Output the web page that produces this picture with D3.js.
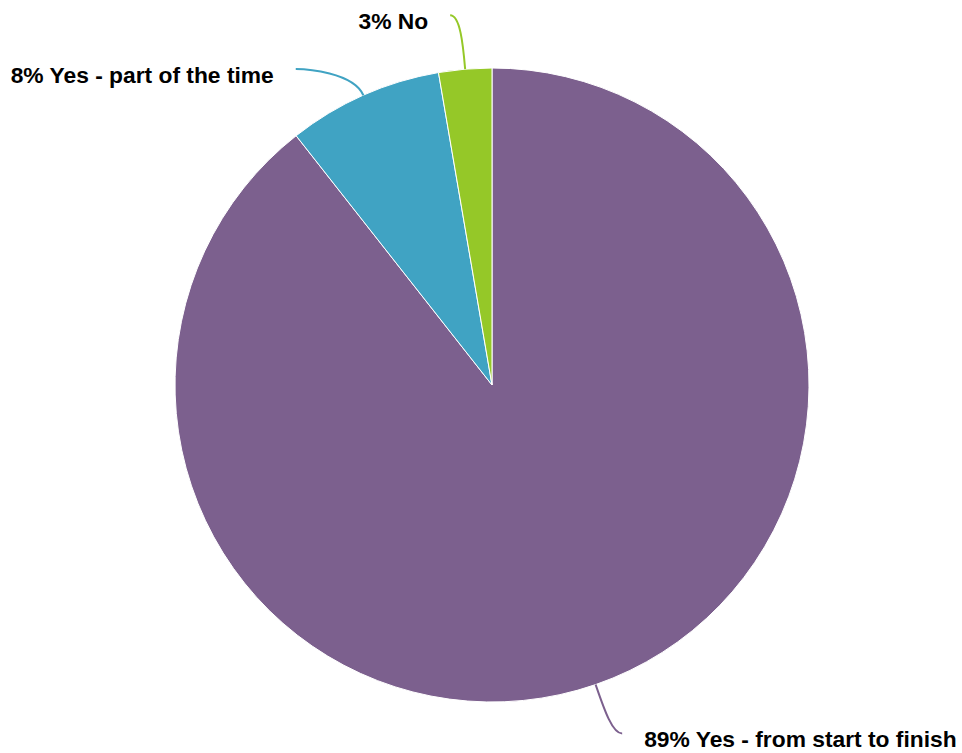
<!DOCTYPE html>
<html>
<head>
<meta charset="utf-8">
<script src="https://cdn.jsdelivr.net/npm/d3@7"></script>
<style>
  body { margin: 0; background: #fff; }
  text { font-family: "Liberation Sans", Arial, sans-serif; font-weight: bold; }
</style>
</head>
<body>
<script>
// answers and their shares
var answers = ["Yes - from start to finish", "Yes - part of the time", "No"]
var shares = [89.4, 7.9, 2.7]
var colors = ["#7c608e", "#40a3c3", "#95c828"]

var width = 962, height = 753
var cx = 492, cy = 385, radius = 317
// small angle nudges (degrees) so the labels do not collide
var labelNudge = [-1.4, -7.9, -1.6]

var data = answers.map(function(a, i){ return {name: a, value: shares[i], color: colors[i]} })
var total = d3.sum(shares)

var pie = d3.pie().sort(null).value(function(d){ return d.value })
var arc = d3.arc().innerRadius(0).outerRadius(radius)
var arcs = pie(data)

var svg = d3.select("body").append("svg")
  .attr("width", width)
  .attr("height", height)

var g = svg.append("g").attr("transform", "translate(" + cx + "," + cy + ")")

g.selectAll("path.slice")
  .data(arcs)
  .enter().append("path")
  .attr("class", "slice")
  .attr("d", arc)
  .attr("fill", function(d){ return d.data.color })
  .attr("stroke", "#fff")
  .attr("stroke-width", 1)

function polar(r, a){ return [r * Math.sin(a), -r * Math.cos(a)] }

arcs.forEach(function(d, i){
  var mid = (d.startAngle + d.endAngle) / 2
  var side = Math.sin(mid) >= 0 ? 1 : -1
  var s = polar(radius, mid)
  var c1 = polar(radius + 25, mid)
  var e = polar(radius + 55, mid + labelNudge[i] * Math.PI / 180)
  var c2 = [e[0] - side * 10, e[1]]
  var p = d3.path()
  p.moveTo(s[0], s[1])
  p.bezierCurveTo(c1[0], c1[1], c2[0], c2[1], e[0], e[1])
  g.append("path")
    .attr("d", p.toString())
    .attr("fill", "none")
    .attr("stroke", d.data.color)
    .attr("stroke-width", 2)

  g.append("text")
    .attr("x", e[0] + side * 22)
    .attr("y", e[1] + 14)
    .attr("text-anchor", side > 0 ? "start" : "end")
    .attr("font-size", "22.8px")
    .attr("fill", "#000")
    .text(Math.round(d.data.value / total * 100) + "% " + d.data.name)
})
</script>
</body>
</html>
